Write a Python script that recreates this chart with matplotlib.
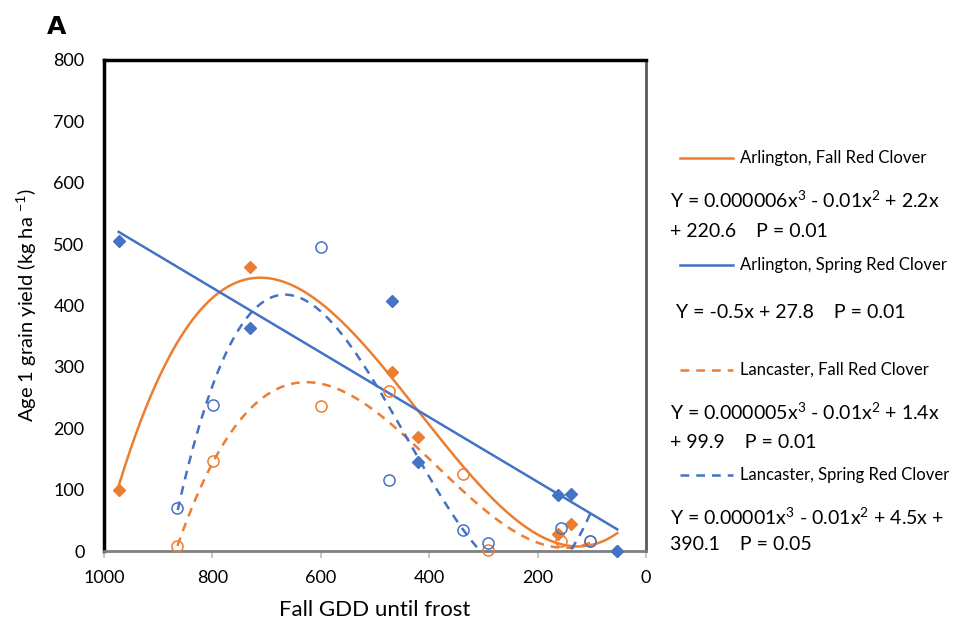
import numpy as np
import matplotlib
matplotlib.use("Agg")
import matplotlib.pyplot as plt
from matplotlib.lines import Line2D

plt.rcParams["font.family"] = ["Lato", "DejaVu Sans"]

ORANGE = "#ED7D31"
BLUE = "#4472C4"

# Fall GDD until frost for each site/date
arl_gdd = [973, 730, 469, 421, 163, 138, 53]
lan_gdd = [866, 798, 599, 474, 337, 291, 157, 103]

# Age 1 grain yield (kg/ha)
arl_fall = [100, 463, 291, 186, 27, 44, 0]
arl_spring = [505, 363, 407, 145, 91, 93, 0]
lan_fall = [8, 147, 236, 261, 125, 2, 16, 16]
lan_spring = [70, 238, 495, 116, 34, 13, 37, 16]

x_ticks = [1000, 800, 600, 400, 200, 0]
y_ticks = [0, 100, 200, 300, 400, 500, 600, 700, 800]

fig = plt.figure(figsize=(9.64, 6.26), dpi=100)
ax = fig.add_axes([104 / 964, 75 / 626, 542 / 964, 491 / 626])


def trend(x, y, deg):
    x = np.asarray(x, float)
    coef = np.polyfit(x, y, deg)
    xs = np.linspace(x.min(), x.max(), 300)
    return xs, np.polyval(coef, xs)


DASH = (0, (3.5, 2.8))

# trendlines
xs, ys = trend(arl_gdd, arl_fall, 3)
ax.plot(xs, ys, color=ORANGE, lw=1.8, zorder=2)
xs, ys = trend(arl_gdd, arl_spring, 1)
ax.plot(xs, ys, color=BLUE, lw=1.8, zorder=2)
xs, ys = trend(lan_gdd, lan_fall, 3)
ax.plot(xs, ys, color=ORANGE, lw=1.8, ls=DASH, zorder=2)
xs, ys = trend(lan_gdd, lan_spring, 3)
ax.plot(xs, ys, color=BLUE, lw=1.8, ls=DASH, zorder=2)

# points
ax.plot(arl_gdd, arl_fall, "D", color=ORANGE, ms=6.5, ls="none", zorder=3, clip_on=False)
ax.plot(arl_gdd, arl_spring, "D", color=BLUE, ms=6.5, ls="none", zorder=3, clip_on=False)
ax.plot(lan_gdd, lan_fall, "o", mfc="none", mec=ORANGE, mew=1.1, ms=8, ls="none",
        zorder=3, clip_on=False)
ax.plot(lan_gdd, lan_spring, "o", mfc="none", mec=BLUE, mew=1.1, ms=8, ls="none",
        zorder=3, clip_on=False)

ax.set_xlim(1000, 0)
ax.set_ylim(0, 800)
ax.set_xticks(x_ticks)
ax.set_yticks(y_ticks)
ax.tick_params(axis="x", length=5, color="#BFBFBF", width=1.2, labelsize=13, pad=9)
ax.tick_params(axis="y", length=0, labelsize=13, pad=14)

ax.spines["left"].set_color("black")
ax.spines["left"].set_linewidth(2.5)
ax.spines["top"].set_color("black")
ax.spines["top"].set_linewidth(2.5)
ax.spines["right"].set_color("#595959")
ax.spines["right"].set_linewidth(2)
ax.spines["bottom"].set_color("#7F7F7F")
ax.spines["bottom"].set_linewidth(2)

ax.set_xlabel("Fall GDD until frost", fontsize=16, labelpad=10)
ax.set_ylabel("Age 1 grain yield (kg ha $^{\\mathregular{-1}}$)", fontsize=14.5, labelpad=10)

fig.text(47 / 964, 1 - 27 / 626, "A", fontsize=18, fontweight="heavy",
         family="DejaVu Sans", va="center")

# legend with equations
entries = [
    ("Arlington, Fall Red Clover", ORANGE, "-", 158),
    ("Arlington, Spring Red Clover", BLUE, "-", 265),
    ("Lancaster, Fall Red Clover", ORANGE, DASH, 370),
    ("Lancaster, Spring Red Clover", BLUE, DASH, 475),
]
for label, col, ls, py in entries:
    yf = 1 - py / 626
    fig.add_artist(Line2D([680 / 964, 733 / 964], [yf, yf], color=col, lw=1.8, ls=ls))
    fig.text(740 / 964, yf, label, fontsize=12, va="center")

eqs = [
    ("Y = 0.000006x$^{\\mathregular{3}}$ - 0.01x$^{\\mathregular{2}}$ + 2.2x", 670, 200),
    ("+ 220.6    P = 0.01", 670, 232),
    ("Y = -0.5x + 27.8    P = 0.01", 676, 313),
    ("Y = 0.000005x$^{\\mathregular{3}}$ - 0.01x$^{\\mathregular{2}}$ + 1.4x", 670, 412),
    ("+ 99.9    P = 0.01", 670, 443),
    ("Y = 0.00001x$^{\\mathregular{3}}$ - 0.01x$^{\\mathregular{2}}$ + 4.5x +", 670, 517),
    ("390.1    P = 0.05", 670, 545),
]
for txt, px, py in eqs:
    fig.text(px / 964, 1 - py / 626, txt, fontsize=14, va="center")

fig.savefig("out.png", dpi=100)
